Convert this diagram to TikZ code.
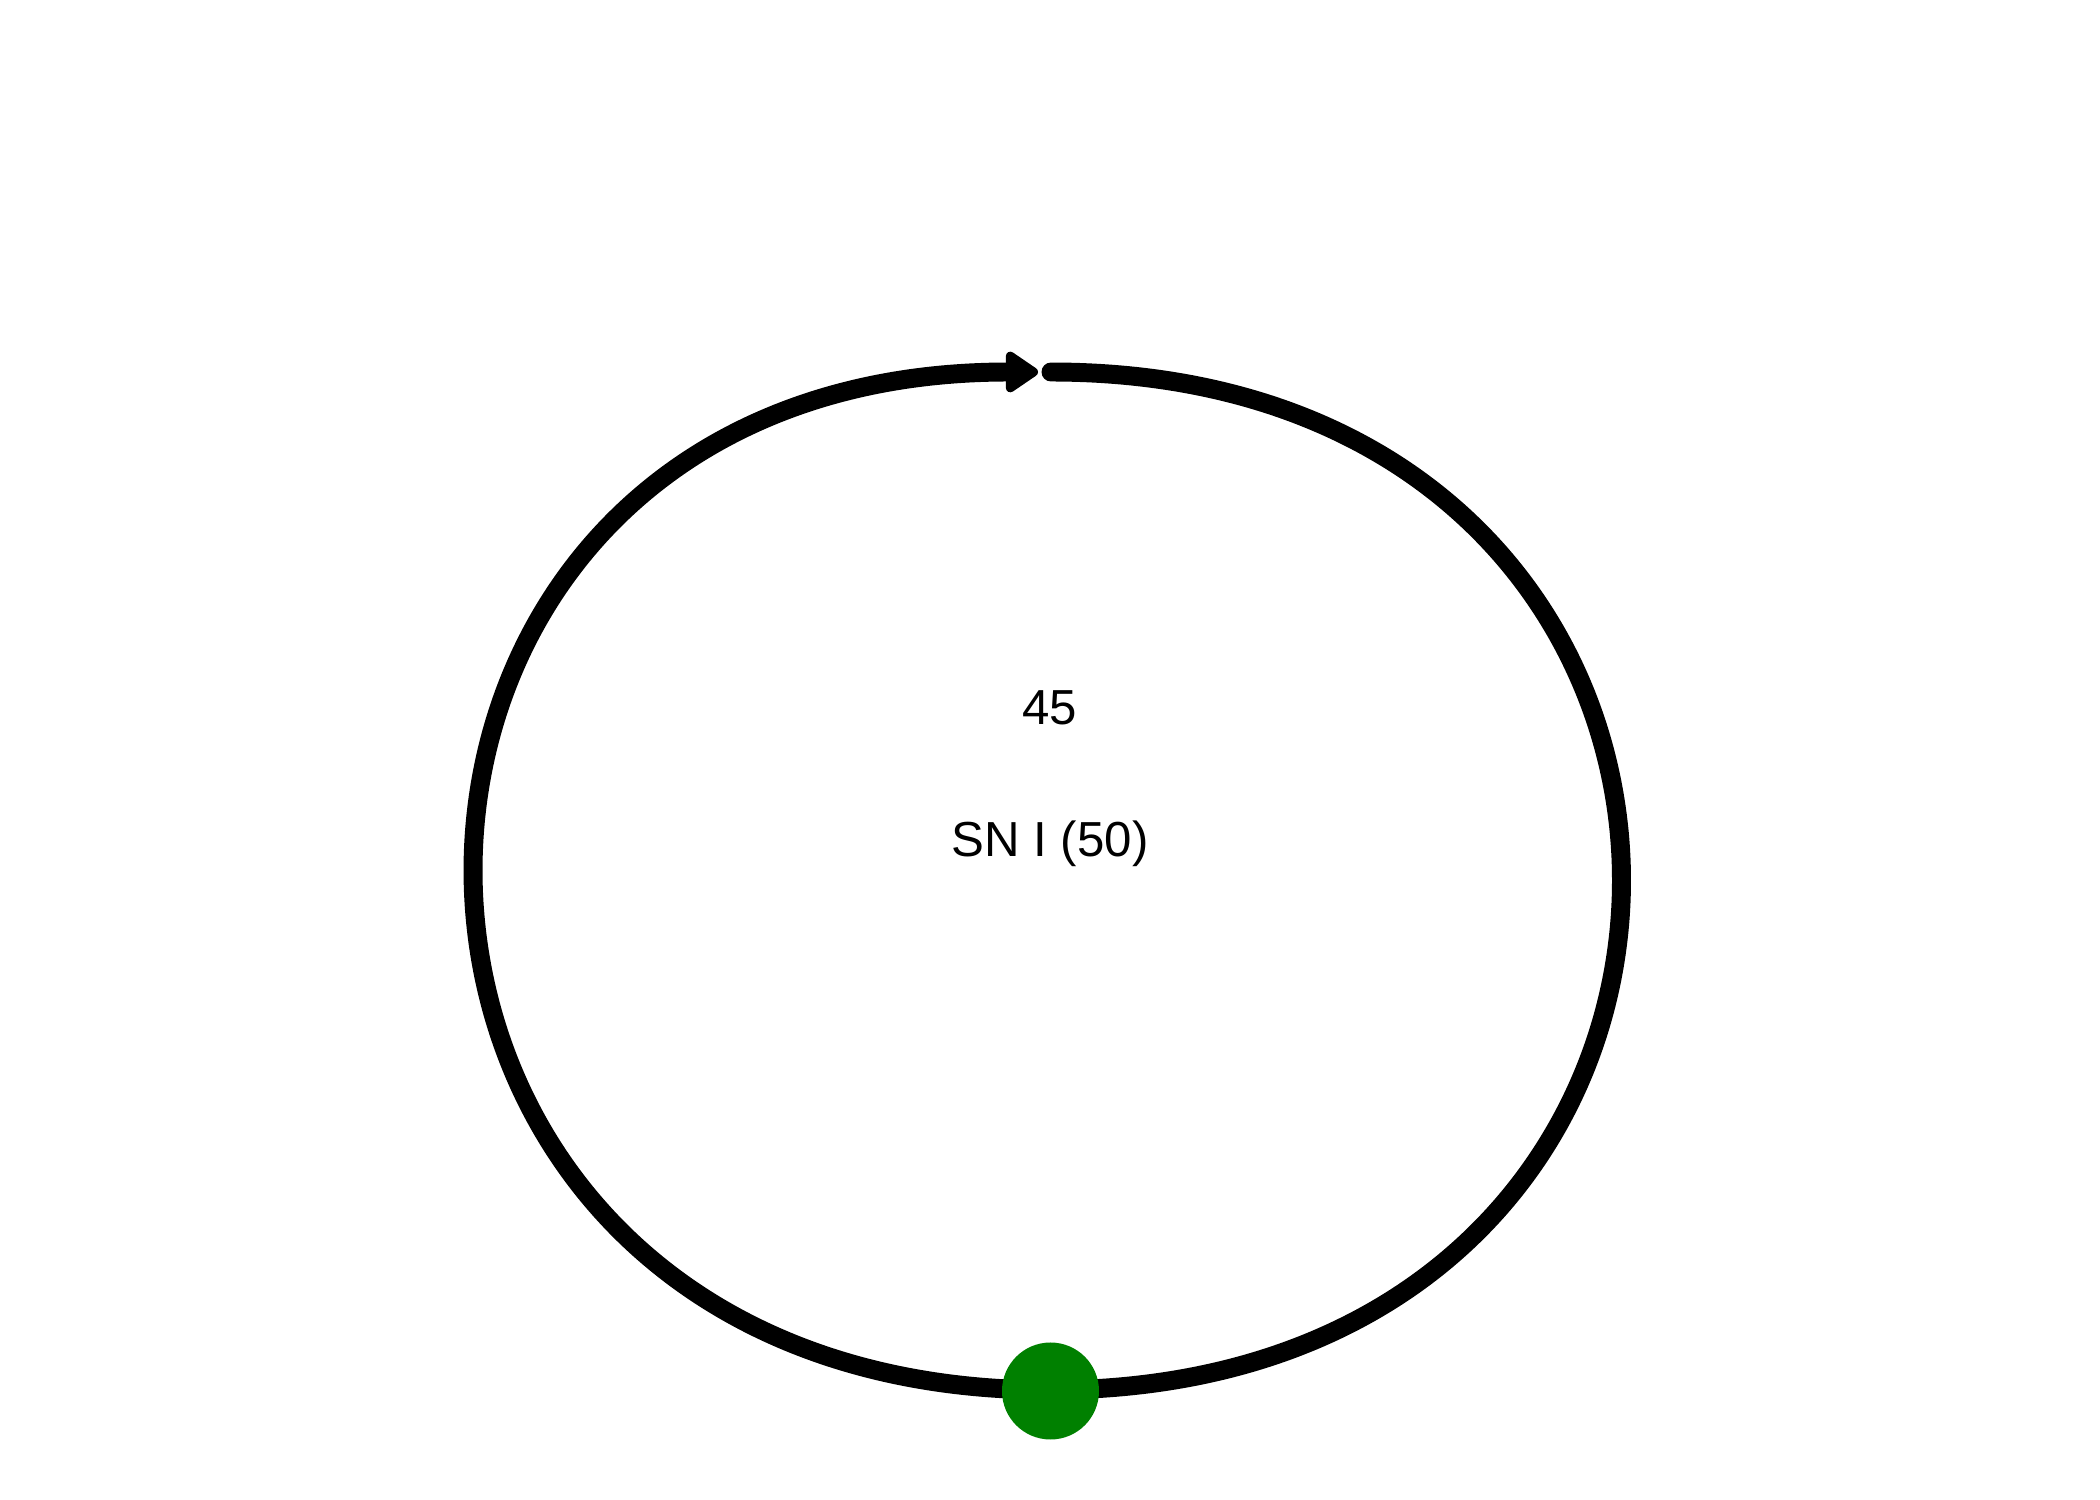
\documentclass[tikz,border=0pt]{standalone}
\usepackage{fontspec}
\setmainfont{Liberation Sans}
\usetikzlibrary{arrows.meta}
\definecolor{dotgreen}{RGB}{0,128,0}
\tikzset{
  loopline/.style={line width=5.4pt, line cap=round, line join=round, black,
    -{Triangle[length=0.36cm, width=0.46cm, round]}},
  lbl/.style={font=\fontsize{14pt}{16pt}\selectfont, anchor=base, inner sep=0pt},
  greendot/.style={circle, fill=dotgreen, minimum size=0.97cm, inner sep=0pt}
}
\begin{document}
\begin{tikzpicture}
\useasboundingbox (0,0) rectangle (21,15);
\coordinate (start) at (10.51,11.28);
\coordinate (bot) at (10.49,1.10);
\coordinate (tipend) at (10.38,11.28);
\draw[loopline] (start) .. controls (18.12,11.28) and (18.12,1.10) .. (bot)
  .. controls (2.88,1.10) and (2.88,11.28) .. (tipend);
\node[greendot] (dot) at (10.505,1.09) {};
\node[lbl] (w) at (10.50,7.75) {45};
\node[lbl] (name) at (10.50,6.43) {SN I (50)};
\end{tikzpicture}
\end{document}
